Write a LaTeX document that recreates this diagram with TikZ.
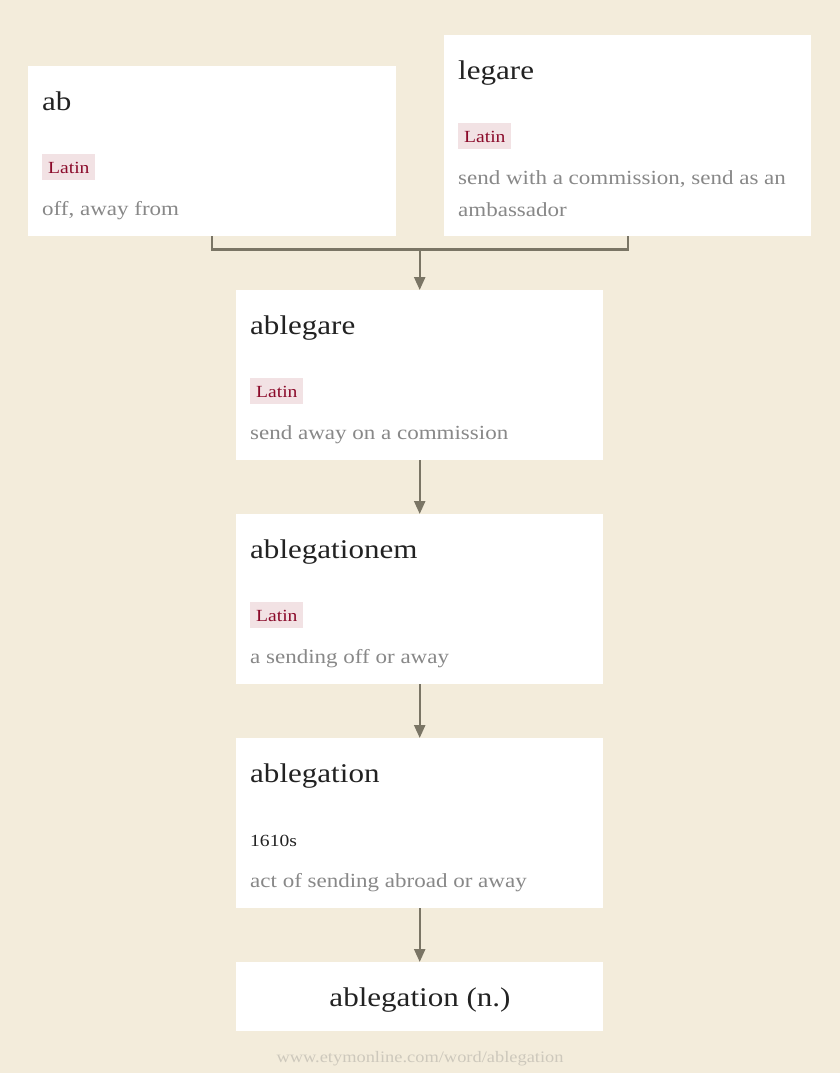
\documentclass[tikz,border=0pt]{standalone}
\usepackage{fontspec}
\setmainfont[FakeStretch=1.15]{Liberation Serif}
\usetikzlibrary{arrows.meta}
\definecolor{bg}{RGB}{243,236,219}
\definecolor{tagbg}{RGB}{242,226,228}
\definecolor{tagfg}{RGB}{139,10,42}
\definecolor{deffg}{RGB}{136,136,136}
\definecolor{titlefg}{RGB}{34,34,34}
\definecolor{conn}{RGB}{122,117,101}
\definecolor{foot}{RGB}{205,200,188}
\tikzset{
  box/.style={fill=white, draw=none, anchor=north west, inner sep=0pt},
  title/.style={anchor=base west, inner sep=0pt, text=titlefg, font=\fontsize{27}{32}\selectfont},
  tag/.style={anchor=base west, fill=tagbg, text=tagfg, inner xsep=6pt, inner ysep=0pt, text height=19pt, text depth=7pt, font=\fontsize{17}{20}\selectfont},
  def/.style={anchor=base west, inner sep=0pt, text=deffg, font=\fontsize{20}{24}\selectfont},
  date/.style={anchor=base west, inner sep=0pt, text=titlefg, font=\fontsize{17}{20}\selectfont},
  link/.style={draw=conn, line width=2.4pt},
  arrow/.style={draw=conn, line width=2.4pt, -{Triangle[length=13pt,width=11pt]}},
}
\begin{document}
\begin{tikzpicture}[x=1pt,y=-1pt]
\fill[bg] (0,0) rectangle (840,1073);
\useasboundingbox (0,0) rectangle (840,1073);
% boxes
\node[box, minimum width=368pt, minimum height=170pt] (ab) at (28,66) {};
\node[box, minimum width=367pt, minimum height=201pt] (legare) at (444,35) {};
\node[box, minimum width=367pt, minimum height=170pt] (ablegare) at (236,290) {};
\node[box, minimum width=367pt, minimum height=170pt] (ablegationem) at (236,514) {};
\node[box, minimum width=367pt, minimum height=170pt] (ablegation) at (236,738) {};
\node[box, minimum width=367pt, minimum height=69pt] (noun) at (236,962) {};
% ab
\node[title] (abT) at (42,110) {ab};
\node[tag] (abL) at (42,173) {Latin};
\node[def] (abD) at (42,215) {off, away from};
% legare
\node[title] (leT) at (458,79) {legare};
\node[tag] (leL) at (458,142) {Latin};
\node[def] (leD) at (458,184) {send with a commission, send as an};
\node[def] (leD2) at (458,216) {ambassador};
% ablegare
\node[title] (agT) at (250,334) {ablegare};
\node[tag] (agL) at (250,397) {Latin};
\node[def] (agD) at (250,439) {send away on a commission};
% ablegationem
\node[title] (amT) at (250,558) {ablegationem};
\node[tag] (amL) at (250,621) {Latin};
\node[def] (amD) at (250,663) {a sending off or away};
% ablegation
\node[title] (anT) at (250,782) {ablegation};
\node[date] (anY) at (250,846) {1610s};
\node[def] (anD) at (250,887) {act of sending abroad or away};
% noun
\node[title, anchor=base] (nT) at (420,1006) {ablegation (n.)};
% footer
\node[anchor=base, inner sep=0pt, text=foot, font=\fontsize{16}{20}\selectfont] (foot) at (420,1062) {www.etymonline.com/word/ablegation};
% connectors
\coordinate (j) at (ablegare.north |- 0,249);
\draw[link] (ab.south) -- ++(0,13) -| (legare.south);
\draw[arrow] (j) -- (ablegare.north);
\draw[arrow] (ablegare.south) -- (ablegationem.north);
\draw[arrow] (ablegationem.south) -- (ablegation.north);
\draw[arrow] (ablegation.south) -- (noun.north);
\end{tikzpicture}
\end{document}
